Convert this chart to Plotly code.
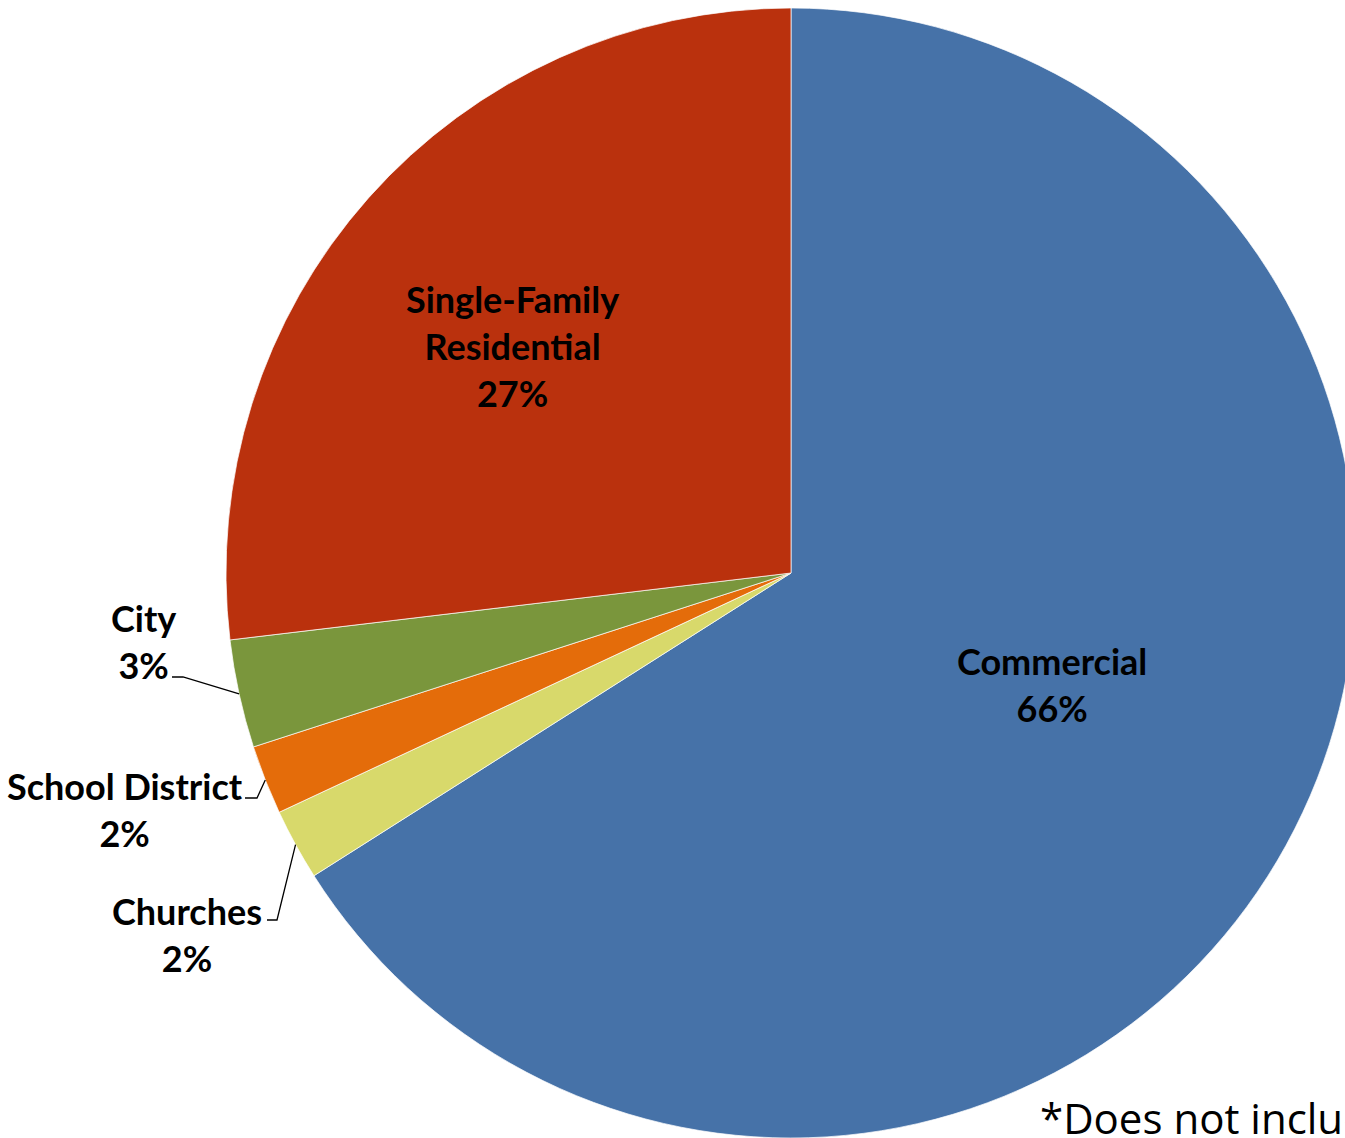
import math
import plotly.graph_objects as go

# ---- data ----
categories = ["Commercial", "Churches", "School District", "City", "Single-Family Residential"]
values = [66.0, 2.04, 1.98, 3.09, 26.89]
pct_labels = ["66%", "2%", "2%", "3%", "27%"]
label_texts = ["Commercial", "Churches", "School District", "City", "Single-Family<br>Residential"]
colors = ["#4672A8", "#D8D96B", "#E46C0A", "#7A963C", "#BA310D"]
footnote = "*Does not include"

# ---- layout constants (pixels) ----
W, H = 1360, 1146
CX, CY, R = 791, 573, 565

def px(x):
    return x / W

def py(y):
    return 1 - y / H

fig = go.Figure(go.Pie(
    labels=categories,
    values=values,
    sort=False,
    direction="clockwise",
    rotation=0,
    marker=dict(colors=colors, line=dict(color="rgba(255,255,255,0.7)", width=1)),
    textinfo="none",
    hoverinfo="label+percent",
    showlegend=False,
    domain=dict(x=[px(CX - R), px(CX + R)], y=[py(CY + R), py(CY - R)]),
))

# label positions (block centers, pixels) -- layout only
label_pos = {
    "Commercial": (1052, 684),
    "Single-Family Residential": (512, 346),
    "City": (143, 641),
    "School District": (125, 809),
    "Churches": (187, 934),
}
# leader-line start points (label side) for outside labels
leader_pts = {
    "City": [(172, 677), (183, 677)],
    "School District": [(245, 798), (257, 798)],
    "Churches": [(267, 920), (277, 920)],
}

font_family = "Lato"
annotations = []
shapes = []
total = sum(values)
cum = 0.0
for cat, v, pl, lt in zip(categories, values, pct_labels, label_texts):
    mid = (cum + v / 2) / total * 2 * math.pi  # clockwise from top
    cum += v
    lx, ly = label_pos[cat]
    annotations.append(dict(
        x=px(lx), y=py(ly), xref="paper", yref="paper",
        text=f"<b>{lt}<br>{pl}</b>", showarrow=False,
        xanchor="center", yanchor="middle", align="center",
        font=dict(family=font_family, size=36, color="#000000"),
    ))
    if cat in leader_pts:
        ex = CX + R * math.sin(mid)
        ey = CY - R * math.cos(mid)
        pts = leader_pts[cat] + [(ex, ey)]
        path = "M " + " L ".join(f"{px(x):.5f},{py(y):.5f}" for x, y in pts)
        shapes.append(dict(type="path", path=path, xref="paper", yref="paper",
                           line=dict(color="#000000", width=1.3)))

annotations.append(dict(
    x=px(1038), y=py(1117), xref="paper", yref="paper",
    text=footnote, showarrow=False, xanchor="left", yanchor="middle",
    font=dict(family="Open Sans", size=42, color="#000000"),
))

fig.update_layout(
    width=W, height=H,
    margin=dict(l=0, r=0, t=0, b=0),
    paper_bgcolor="white", plot_bgcolor="white",
    annotations=annotations, shapes=shapes,
)

fig.write_html(
    "out.html",
    config={"displayModeBar": False},
    post_script="document.body.style.margin='0';document.body.style.overflow='hidden';",
)
